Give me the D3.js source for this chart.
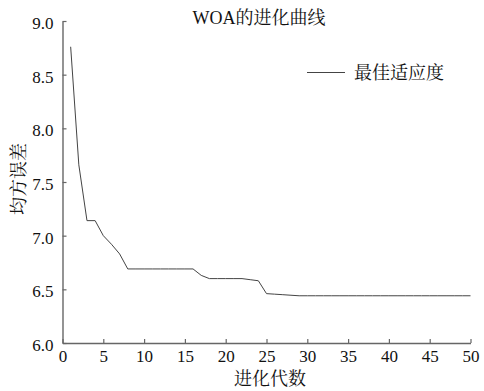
<!DOCTYPE html>
<html>
<head>
<meta charset="utf-8">
<script src="https://cdn.jsdelivr.net/npm/d3@7"></script>
<style>
	body { margin: 0; background: #fff; }
</style>
</head>
<body>
<div id="chart_area"></div>
<script>
// iterations and best fitness (mean squared error)
var generations = [1, 2, 3, 4, 5, 6, 7, 8, 9, 10, 11, 12, 13, 14, 15, 16, 17, 18, 19, 20,
	21, 22, 23, 24, 25, 26, 27, 28, 29, 30, 31, 32, 33, 34, 35, 36, 37, 38, 39, 40,
	41, 42, 43, 44, 45, 46, 47, 48, 49, 50];
var mse = [8.76, 7.66, 7.14, 7.14, 7.00, 6.92, 6.83, 6.69, 6.69, 6.69, 6.69, 6.69, 6.69, 6.69, 6.69, 6.69, 6.63, 6.60, 6.60, 6.60,
	6.60, 6.60, 6.59, 6.58, 6.46, 6.455, 6.45, 6.445, 6.44, 6.44, 6.44, 6.44, 6.44, 6.44, 6.44, 6.44, 6.44, 6.44, 6.44, 6.44,
	6.44, 6.44, 6.44, 6.44, 6.44, 6.44, 6.44, 6.44, 6.44, 6.44];
var xTicks = [0, 5, 10, 15, 20, 25, 30, 35, 40, 45, 50];
var yTicks = [6.0, 6.5, 7.0, 7.5, 8.0, 8.5, 9.0];

var FONT = "'Liberation Serif', 'Noto Serif CJK SC', 'Noto Sans CJK SC', serif";

// set the size and margins
var margin = {top: 21, right: 13.5, bottom: 48, left: 62.5};
var frame_width = 484;
var frame_height = 391;
var canvas_width = frame_width - margin.left - margin.right;
var canvas_height = frame_height - margin.top - margin.bottom;

var frame = d3.select("#chart_area").append("svg")
	.attr("width", frame_width)
	.attr("height", frame_height);
var canvas = frame.append("g")
	.attr("transform", "translate(" + margin.left + "," + margin.top + ")");

var xScale = d3.scaleLinear().domain([0, 50]).range([0, canvas_width]);
var yScale = d3.scaleLinear().domain([6, 9]).range([canvas_height, 0]);

// axes with inward ticks
var xAxis = d3.axisBottom(xScale).tickValues(xTicks).tickSizeInner(-4).tickSizeOuter(0).tickPadding(6);
var yAxis = d3.axisLeft(yScale).tickValues(yTicks).tickSizeInner(-4).tickSizeOuter(0).tickPadding(9)
	.tickFormat(d3.format(".1f"));

var gx = canvas.append("g")
	.attr("transform", "translate(0," + canvas_height + ")")
	.call(xAxis);
var gy = canvas.append("g").call(yAxis);

[gx, gy].forEach(function(g){
	g.attr("font-family", null).attr("font-size", null);
	g.select(".domain").attr("stroke", "#666").attr("stroke-width", 1.4);
	g.selectAll(".tick line").attr("stroke", "#666").attr("stroke-width", 1.2);
	g.selectAll(".tick text")
		.style("font-family", FONT)
		.style("font-size", "17px")
		.attr("fill", "#111");
});
gx.selectAll(".tick text").attr("dy", "0.75em");
gy.selectAll(".tick text").attr("dy", "0.45em");

// the curve
var line = d3.line()
	.x(function(d, i) { return xScale(generations[i]); })
	.y(function(d) { return yScale(d); });
canvas.append("path")
	.datum(mse)
	.attr("fill", "none")
	.attr("stroke", "#444")
	.attr("stroke-width", 1)
	.attr("d", line);

// title and labels
function label(x, y, txt) {
	return frame.append("text")
		.attr("x", x).attr("y", y)
		.style("font-family", FONT)
		.style("font-size", "18px")
		.attr("fill", "#111")
		.text(txt);
}
label(259, 24, "WOA的进化曲线").attr("text-anchor", "middle");
label(270, 385, "进化代数").attr("text-anchor", "middle");
label(0, 0, "均方误差")
	.attr("text-anchor", "middle")
	.attr("transform", "translate(25,179) rotate(-90)");

// legend
frame.append("line")
	.attr("x1", 307).attr("x2", 345)
	.attr("y1", 72.5).attr("y2", 72.5)
	.attr("stroke", "#444").attr("stroke-width", 1);
label(354, 78.5, "最佳适应度");
</script>
</body>
</html>
